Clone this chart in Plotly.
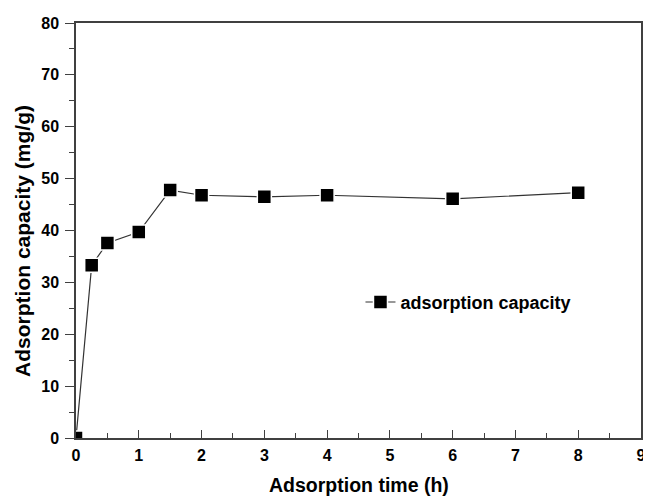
import plotly.graph_objects as go

time_h = [0, 0.25, 0.5, 1, 1.5, 2, 3, 4, 6, 8]
capacity = [0, 33.3, 37.6, 39.7, 47.8, 46.8, 46.5, 46.8, 46.1, 47.3]
series_name = "adsorption capacity"
x_title = "Adsorption time (h)"
y_title = "Adsorption capacity (mg/g)"
x_ticks = list(range(0, 10))
y_ticks = list(range(0, 90, 10))

FONT = "Liberation Sans, Arial, sans-serif"

fig = go.Figure()
fig.add_trace(go.Scatter(
    x=time_h, y=capacity, name=series_name, mode="lines+markers",
    line=dict(color="#333333", width=1.2),
    marker=dict(symbol="square", size=14, color="black",
                line=dict(color="white", width=1.5)),
    cliponaxis=True,
))

axis_common = dict(
    showgrid=False, zeroline=False, showline=True, linecolor="#404040",
    linewidth=1.5, mirror=True, tickcolor="#404040", tickwidth=1.3,
    tickfont=dict(family=FONT, size=16, color="black", weight="bold"),
)

fig.update_xaxes(
    range=[0, 9], tickvals=x_ticks, ticks="inside", ticklen=8,
    minor=dict(dtick=0.5, ticks="inside", ticklen=5, tickcolor="#404040", tickwidth=1.3),
    ticklabelstandoff=2,
    **axis_common,
)
fig.update_yaxes(
    range=[0, 80], tickvals=y_ticks, ticks="outside", ticklen=9,
    minor=dict(dtick=5, ticks="outside", ticklen=5, tickcolor="#404040", tickwidth=1.3),
    ticklabelstandoff=3,
    **axis_common,
)

fig.add_annotation(
    text=x_title, xref="paper", yref="paper", x=0.5, y=0, yshift=-47,
    xanchor="center", yanchor="middle", showarrow=False, borderpad=0,
    font=dict(family=FONT, size=19.5, color="black", weight="bold"),
)
fig.add_annotation(
    text=y_title, xref="paper", yref="y", x=0, y=38, xshift=-53,
    xanchor="center", yanchor="middle", showarrow=False, textangle=-90,
    borderpad=0,
    font=dict(family=FONT, size=21, color="black", weight="bold"),
)

# The page body keeps an 8 px default margin, so the figure is 8 px smaller
# and its margins are reduced by 8 px on the left and top.
fig.update_layout(
    width=643, height=489,
    margin=dict(l=68, r=5, t=15, b=59),
    paper_bgcolor="white", plot_bgcolor="white",
    showlegend=True,
    legend=dict(x=0.5035, y=0.327, xanchor="left", yanchor="middle",
                bgcolor="rgba(0,0,0,0)",
                font=dict(family=FONT, size=18, color="black", weight="bold")),
)

fig.write_html("out.html")
